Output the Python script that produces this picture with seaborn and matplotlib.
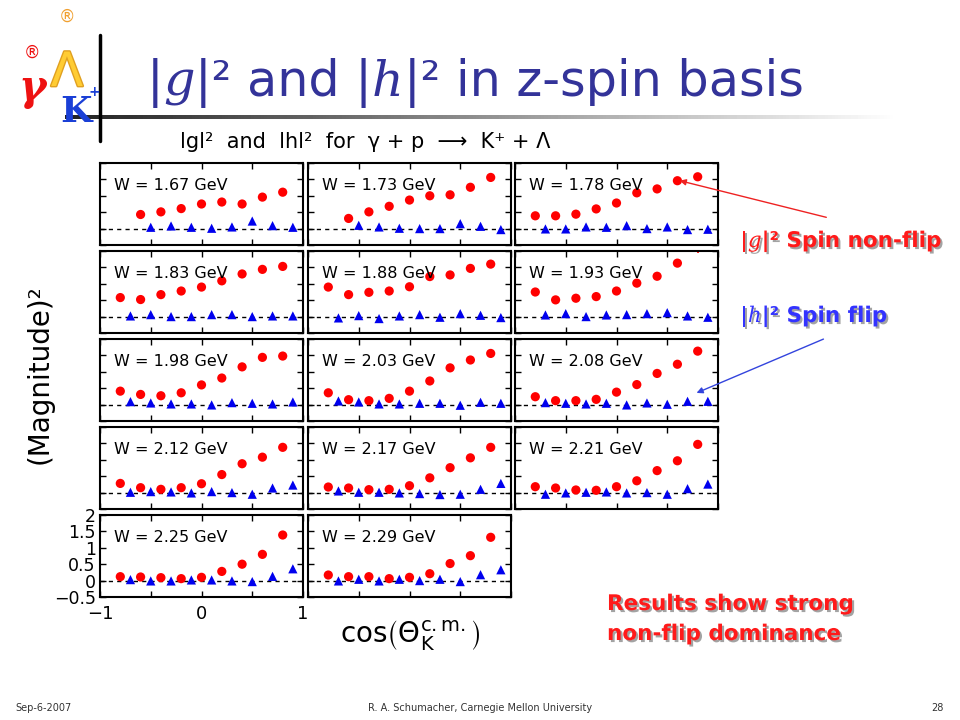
import numpy as np
import pandas as pd
import matplotlib
matplotlib.use("Agg")
import matplotlib.pyplot as plt
import matplotlib.patheffects as pe
from matplotlib.patches import FancyArrowPatch
import seaborn as sns

sns.set_theme(style="white")
plt.rcParams['font.family'] = ['DejaVu Sans']
plt.rcParams['mathtext.fontset'] = 'dejavusans'

# ---------------- data ----------------
W_LABELS = ["1.67", "1.73", "1.78", "1.83", "1.88", "1.93", "1.98",
            "2.03", "2.08", "2.12", "2.17", "2.21", "2.25", "2.29"]

COS_G_9 = [-0.8, -0.6, -0.4, -0.2, 0.0, 0.2, 0.4, 0.6, 0.8]
COS_H_9 = [-0.7, -0.5, -0.3, -0.1, 0.1, 0.3, 0.5, 0.7, 0.9]
COS_G_8 = [-0.6, -0.4, -0.2, 0.0, 0.2, 0.4, 0.6, 0.8]
COS_H_8 = [-0.5, -0.3, -0.1, 0.1, 0.3, 0.5, 0.7, 0.9]

G_167 = [0.43, 0.51, 0.61, 0.75, 0.81, 0.75, 0.96, 1.11]
G_173 = [0.31, 0.51, 0.68, 0.87, 1.00, 1.03, 1.26, 1.56]
G_178 = [0.39, 0.39, 0.44, 0.60, 0.78, 1.09, 1.21, 1.46, 1.58]
G_183 = [0.58, 0.52, 0.67, 0.78, 0.90, 1.09, 1.30, 1.44, 1.53]
G_188 = [0.90, 0.67, 0.74, 0.78, 0.91, 1.22, 1.27, 1.47, 1.60]
G_193 = [0.75, 0.51, 0.56, 0.61, 0.78, 1.02, 1.23, 1.63, 2.15]
G_198 = [0.41, 0.31, 0.27, 0.36, 0.60, 0.81, 1.15, 1.44, 1.48]
G_203 = [0.36, 0.15, 0.12, 0.19, 0.41, 0.72, 1.12, 1.36, 1.56]
G_208 = [0.24, 0.12, 0.12, 0.16, 0.38, 0.61, 0.95, 1.23, 1.63]
G_212 = [0.28, 0.15, 0.10, 0.15, 0.27, 0.55, 0.88, 1.08, 1.38]
G_217 = [0.17, 0.14, 0.09, 0.10, 0.21, 0.45, 0.76, 1.06, 1.38]
G_221 = [0.18, 0.14, 0.08, 0.07, 0.18, 0.36, 0.67, 0.97, 1.47]
G_225 = [0.12, 0.11, 0.09, 0.06, 0.10, 0.28, 0.50, 0.80, 1.39]
G_229 = [0.17, 0.12, 0.12, 0.06, 0.10, 0.21, 0.52, 0.76, 1.32]

H_167 = [0.04, 0.08, 0.04, 0.01, 0.05, 0.23, 0.09, 0.04]
H_173 = [0.10, 0.05, 0.01, 0.00, 0.00, 0.15, 0.07, -0.03]
H_178 = [-0.01, -0.01, 0.05, 0.04, 0.09, 0.00, 0.05, -0.03, -0.02]
H_183 = [0.02, 0.06, 0.00, 0.00, 0.06, 0.06, 0.00, 0.02, 0.02]
H_188 = [-0.04, 0.03, -0.06, 0.02, 0.06, -0.02, 0.09, 0.04, -0.03]
H_193 = [0.05, 0.09, 0.00, 0.05, 0.06, 0.09, 0.12, 0.02, -0.02]
H_198 = [0.09, 0.05, 0.02, 0.02, -0.01, 0.06, 0.04, 0.02, 0.08]
H_203 = [0.11, 0.08, 0.02, 0.02, 0.04, 0.04, -0.02, 0.07, 0.04]
H_208 = [0.06, 0.04, 0.02, 0.04, -0.01, 0.05, 0.01, 0.10, 0.10]
H_212 = [0.01, 0.03, 0.02, -0.01, 0.03, 0.00, -0.05, 0.14, 0.23]
H_217 = [0.05, 0.01, 0.01, -0.01, -0.03, -0.06, -0.05, 0.10, 0.28]
H_221 = [-0.05, -0.01, 0.01, 0.02, -0.01, 0.00, -0.05, 0.12, 0.26]
H_225 = [0.03, -0.01, -0.01, 0.02, 0.02, -0.01, -0.03, 0.13, 0.36]
H_229 = [-0.01, 0.04, -0.01, 0.04, 0.00, 0.04, -0.03, 0.18, 0.33]

G_ALL = [G_167, G_173, G_178, G_183, G_188, G_193, G_198,
         G_203, G_208, G_212, G_217, G_221, G_225, G_229]
H_ALL = [H_167, H_173, H_178, H_183, H_188, H_193, H_198,
         H_203, H_208, H_212, H_217, H_221, H_225, H_229]

# uncertainty of the most forward point in each panel (others small)
G_ERR_LAST = [0.05, 0.07, 0.05, 0.05, 0.05, 0.20, 0.05, 0.05, 0.05, 0.06, 0.05, 0.05, 0.08, 0.08]
H_ERR_LAST = [0.05, 0.05, 0.04, 0.04, 0.04, 0.04, 0.04, 0.04, 0.04, 0.06, 0.05, 0.05, 0.07, 0.09]
ERR_SMALL = 0.03

Y_TICKS = [-0.5, 0, 0.5, 1, 1.5, 2]
Y_TICKLABELS = ["\u22120.5", "0", "0.5", "1", "1.5", "2"]
X_TICKS = [-1, -0.5, 0, 0.5, 1]
X_TICKLABELS = ["\u22121", "", "0", "", "1"]

# ---------------- long table ----------------
rows = []
for i, w in enumerate(W_LABELS):
    g = G_ALL[i]
    h = H_ALL[i]
    cg = COS_G_9 if len(g) == 9 else COS_G_8
    ch = COS_H_9 if len(h) == 9 else COS_H_8
    for k, (c, v) in enumerate(zip(cg, g)):
        e = G_ERR_LAST[i] if k == len(g) - 1 else ERR_SMALL
        rows.append(dict(W=w, amp="g", cos=c, val=v, err=e))
    for k, (c, v) in enumerate(zip(ch, h)):
        e = H_ERR_LAST[i] if k == len(h) - 1 else ERR_SMALL
        rows.append(dict(W=w, amp="h", cos=c, val=v, err=e))
df = pd.DataFrame(rows)

# ---------------- figure ----------------
FW, FH = 960, 720
fig = plt.figure(figsize=(9.6, 7.2), dpi=100)
fig.patch.set_facecolor("white")


def fx(x):
    return x / FW


def fy(y):
    return 1 - y / FH


COL_L = [100, 308, 515]
ROW_T = [163, 251, 339, 427, 515]
PW, PH = 203, 82

palette = {"g": "#ff0000", "h": "#0000ee"}
markers = {"g": "o", "h": "^"}

for i, w in enumerate(W_LABELS):
    r, c = divmod(i, 3)
    left, top = COL_L[c], ROW_T[r]
    ax = fig.add_axes([fx(left), fy(top + PH), PW / FW, PH / FH])
    sub = df[df.W == w]
    ax.axhline(0, color="black", lw=1, ls=(0, (3, 3)), zorder=1)
    for amp in ["g", "h"]:
        s = sub[sub.amp == amp]
        ax.errorbar(s["cos"], s["val"], yerr=s["err"], fmt="none",
                    ecolor=palette[amp], elinewidth=1.2, zorder=2)
    sns.scatterplot(data=sub, x="cos", y="val", hue="amp", style="amp",
                    palette=palette, markers=markers, s=44, linewidth=0,
                    legend=False, ax=ax, zorder=3)
    ax.set_xlim(-1, 1)
    ax.set_ylim(-0.5, 2)
    ax.set_xticks(X_TICKS)
    ax.set_yticks(Y_TICKS)
    ax.set_xlabel("")
    ax.set_ylabel("")
    ax.tick_params(direction="in", length=4, width=1, top=True, right=True,
                   bottom=True, left=True, colors="black")
    if i == 12:
        ax.set_xticklabels(X_TICKLABELS, fontsize=13)
        ax.set_yticklabels(Y_TICKLABELS, fontsize=12.5)
        ax.tick_params(axis="x", pad=6)
        ax.tick_params(axis="y", pad=3)
    else:
        ax.set_xticklabels([])
        ax.set_yticklabels([])
    for sp in ax.spines.values():
        sp.set_color("black")
        sp.set_linewidth(1.5)
    ax.text(0.07, 0.72, f"W = {w} GeV", transform=ax.transAxes,
            fontsize=11.5, va="center", ha="left", color="black")

fig.canvas.draw()
renderer = fig.canvas.get_renderer()


def draw_pieces(x_px, y_px, pieces, **common):
    x = x_px
    for txt, kw in pieces:
        opts = dict(common)
        opts.update(kw)
        t = fig.text(fx(x), fy(y_px), txt, va="baseline", ha="left", **opts)
        bb = t.get_window_extent(renderer)
        x = bb.x1
    return x


# ---------------- title ----------------
NAVY = "#333399"
SERIF = dict(family=["DejaVu Serif"], style="italic")
draw_pieces(147, 96, [("|", {}), ("g", SERIF), ("|\u00b2 and |", {}),
                      ("h", SERIF), ("|\u00b2 in z-spin basis", {})],
            fontsize=35.5, color=NAVY)

# logo
fig.text(fx(32), fy(100), "\u03b3", fontsize=30, color="#ee1111",
         fontweight="bold", family=["DejaVu Serif"], style="italic",
         ha="center", va="baseline")
fig.text(fx(67), fy(86), "\u039b", fontsize=34, color="#ffcc33",
         ha="center", va="baseline",
         path_effects=[pe.withStroke(linewidth=2, foreground="#e0a020")])
fig.text(fx(76), fy(122), "K", fontsize=26, color="#1a3fd6",
         fontweight="bold", family=["DejaVu Serif"], ha="center", va="baseline")
fig.text(fx(94), fy(96), "+", fontsize=10, color="#1a3fd6",
         fontweight="bold", ha="center", va="baseline")
fig.text(fx(32), fy(58), "\u00ae", fontsize=12, color="#ee1111",
         ha="center", va="baseline")
fig.text(fx(67), fy(22), "\u00ae", fontsize=12, color="#f0a030",
         ha="center", va="baseline")

# decorative lines
fig.add_artist(plt.Line2D([fx(100), fx(100)], [fy(35), fy(141)],
                          color="black", lw=2.5))
grad_ax = fig.add_axes([fx(65), fy(119), (900 - 65) / FW, 4 / FH])
grad = np.linspace(0, 1, 256)[None, :]
grad_ax.imshow(grad, aspect="auto", cmap="gray", vmin=-0.15, vmax=1.0,
               extent=[0, 1, 0, 1])
grad_ax.set_axis_off()

# subtitle
draw_pieces(180, 148, [("lgl\u00b2  and  lhl\u00b2  for  \u03b3 + p  \u27f6  K\u207a + \u039b", {})],
            fontsize=15, color="black")

# axis labels
fig.text(fx(40), fy(374), "(Magnitude)\u00b2", rotation=90, fontsize=20,
         ha="center", va="center", color="black")
fig.text(fx(410), fy(636), r"cos$\left(\Theta_{\rm K}^{\rm c.m.}\right)$",
         fontsize=20, ha="center", va="center", color="black")

# annotations
shadow = [pe.SimplePatchShadow(offset=(1.5, -1.5), shadow_rgbFace="#999999", alpha=0.9),
          pe.Normal()]
RED = "#ff1a1a"
BLUE = "#3333ff"
SERIF_B = dict(family=["DejaVu Serif"], style="italic", fontweight="normal")
draw_pieces(740, 247, [("|", {}), ("g", SERIF_B), ("|\u00b2 Spin non-flip", {})],
            fontsize=15.5, color=RED, fontweight="bold", path_effects=shadow)
draw_pieces(740, 322, [("|", {}), ("h", SERIF_B), ("|\u00b2 Spin flip", {})],
            fontsize=15.5, color=BLUE, fontweight="bold", path_effects=shadow)
fig.text(fx(607), fy(610), "Results show strong", fontsize=15.5, color=RED,
         fontweight="bold", ha="left", va="baseline", path_effects=shadow)
fig.text(fx(607), fy(640), "non-flip dominance", fontsize=15.5, color=RED,
         fontweight="bold", ha="left", va="baseline", path_effects=shadow)

fig.add_artist(FancyArrowPatch((fx(829), fy(218)), (fx(677), fy(180)),
                               transform=fig.transFigure, arrowstyle="-|>",
                               mutation_scale=9, color="#ee2222", lw=1))
fig.add_artist(FancyArrowPatch((fx(826), fy(338)), (fx(694), fy(394)),
                               transform=fig.transFigure, arrowstyle="-|>",
                               mutation_scale=9, color="#3344dd", lw=1))

# footer
fig.text(fx(15), fy(708), "Sep-6-2007", fontsize=7, color="#333333",
         ha="left", va="center")
fig.text(fx(480), fy(708), "R. A. Schumacher, Carnegie Mellon University",
         fontsize=7, color="#333333", ha="center", va="center")
fig.text(fx(944), fy(708), "28", fontsize=7, color="#333333",
         ha="right", va="center")

fig.savefig("out.png", dpi=100, facecolor="white")
